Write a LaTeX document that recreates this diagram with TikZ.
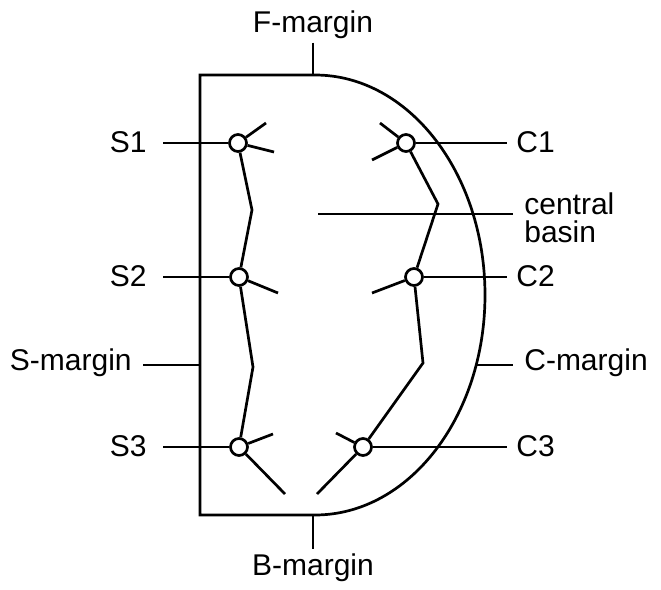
\documentclass[tikz,border=0pt]{standalone}
\usepackage{fontspec}
\setmainfont{Liberation Sans}
\usepackage{tikz}

\tikzset{
    pit/.style={circle, draw, fill=white, minimum size=17pt, inner sep=0pt},
    lbl/.style={inner xsep=10pt, inner ysep=3pt, font=\fontsize{30}{28.5}\selectfont},
}

\begin{document}
\begin{tikzpicture}[x=1pt, y=-1pt, line width=2.7pt]
        \useasboundingbox (0,0) rectangle (661,589);

        % Outline
        \draw (315,75) -- (200,75) -- (200,515) -- (315,515)
              arc[start angle=90, end angle=-90, x radius=170, y radius=220];
        \coordinate (fw) at (313,75);
        \coordinate (bw) at (313,515);
        \coordinate (sw) at (200,365);
        \coordinate (cw) at (476,365);

        % Pits
        \node[pit] (s1) at (238,143) {};
        \node[pit] (s2) at (239,277) {};
        \node[pit] (s3) at (239,447) {};
        \node[pit] (c1) at (406,143) {};
        \node[pit] (c2) at (414,277) {};
        \node[pit] (c3) at (363,447) {};

        % Bends and free ends
        \coordinate (k1) at (252,210);
        \coordinate (k2) at (253,367);
        \coordinate (k3) at (438,204);
        \coordinate (k4) at (423,363);
        \coordinate (s1a) at (266,123);
        \coordinate (s1b) at (274,152);
        \coordinate (s2a) at (278,293);
        \coordinate (s3a) at (273,434);
        \coordinate (s3b) at (285,494);
        \coordinate (c1a) at (380,123);
        \coordinate (c1b) at (372,160);
        \coordinate (c2a) at (372,293);
        \coordinate (c3a) at (336,433);
        \coordinate (c3b) at (317,494);
        \coordinate (cb0) at (318,214);

        % Labels
        \node[lbl, anchor=base] (fm) at (313,32) {F-margin};
        \node[lbl, anchor=base] (bm) at (313,575) {B-margin};
        \node[lbl, anchor=base east, inner xsep=15pt] (sl1) at (163,152) {S1};
        \node[lbl, anchor=base east, inner xsep=15pt] (sl2) at (163,286) {S2};
        \node[lbl, anchor=base east, inner xsep=15pt] (sl3) at (163,456) {S3};
        \node[lbl, anchor=base east] (sm) at (143,370) {S-margin};
        \node[lbl, anchor=base west, inner xsep=8pt] (cl1) at (507,152) {C1};
        \node[lbl, anchor=base west, inner xsep=8pt] (cl2) at (507,286) {C2};
        \node[lbl, anchor=base west, inner xsep=8pt] (cl3) at (507,456) {C3};
        \node[lbl, anchor=base west] (cm) at (513,370) {C-margin};
        \node[lbl, anchor=north west, align=left] (cb) at (513,188) {central\\basin};

        % Chains
        \draw (s1) -- (k1) -- (s2) -- (k2) -- (s3);
        \draw (c1) -- (k3) -- (c2) -- (k4) -- (c3);
        \draw (s1) -- (s1a);
        \draw (s1) -- (s1b);
        \draw (s2) -- (s2a);
        \draw (s3) -- (s3a);
        \draw (s3) -- (s3b);
        \draw (c1) -- (c1a);
        \draw (c1) -- (c1b);
        \draw (c2) -- (c2a);
        \draw (c3) -- (c3a);
        \draw (c3) -- (c3b);

        % Leaders
        \draw (fm) -- (fw);
        \draw (bm) -- (bw);
        \draw (sl1.east |- s1) -- (s1);
        \draw (sl2.east |- s2) -- (s2);
        \draw (sl3.east |- s3) -- (s3);
        \draw (sm.east |- sw) -- (sw);
        \draw (c1) -- (cl1.west |- c1);
        \draw (c2) -- (cl2.west |- c2);
        \draw (c3) -- (cl3.west |- c3);
        \draw (cw) -- (cm.west |- cw);
        \draw (cb0) -- (cb.west |- cb0);
\end{tikzpicture}
\end{document}
